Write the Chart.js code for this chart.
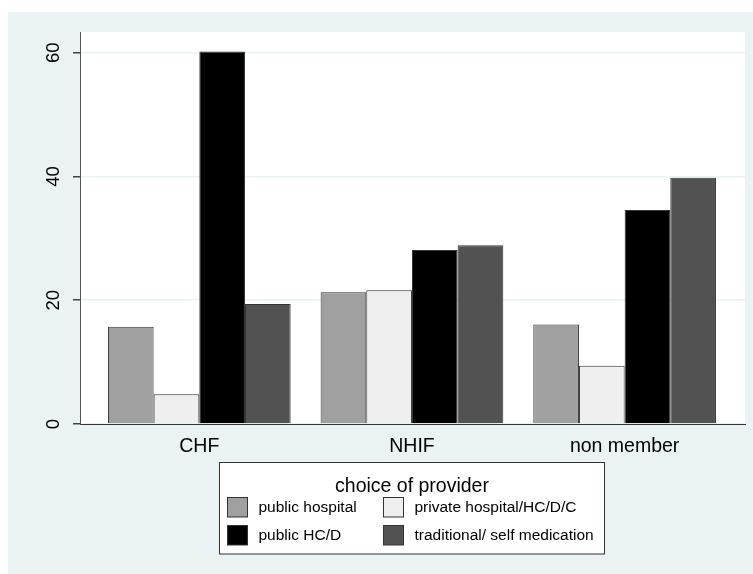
<!DOCTYPE html>
<html lang="en">
<head>
    <meta charset="UTF-8">
    <title>Choice of provider by membership</title>
    <script src="https://cdn.jsdelivr.net/npm/chart.js"></script>
    <style>
        body {
            margin: 0;
            background-color: #fff;
        }
        #wrap {
            width: 753px;
            height: 574px;
            position: relative;
        }
    </style>
</head>
<body>
<div id="wrap"><canvas id="providerChart"></canvas></div>
<script>
    const categories = ['CHF', 'NHIF', 'non member'];
    const publicHospital = [15.7, 21.3, 16.1];
    const privateHospital = [4.8, 21.6, 9.4];
    const publicHCD = [60.2, 28.1, 34.6];
    const traditional = [19.4, 28.9, 39.8];
    const seriesNames = ['public hospital', 'private hospital/HC/D/C', 'public HC/D', 'traditional/ self medication'];
    const seriesColors = ['#a0a0a0', '#efefef', '#000000', '#525252'];
    const yTicks = [0, 20, 40, 60];
    const legendTitle = 'choice of provider';

    const FONT = '"Liberation Sans", Arial, Helvetica, sans-serif';
    const BG = '#eaf2f3';

    // bars sit on a linear x axis so the outer margins can be set freely
    const toPoints = vals => vals.map((v, i) => ({ x: i, y: v }));
    const datasets = [publicHospital, privateHospital, publicHCD, traditional].map((vals, i) => ({
        label: seriesNames[i],
        data: toPoints(vals),
        backgroundColor: seriesColors[i],
        borderColor: '#333',
        borderWidth: 1,
        categoryPercentage: 0.859,
        barPercentage: 1
    }));

    const background = {
        id: 'background',
        beforeDraw(chart) {
            const { ctx, chartArea } = chart;
            ctx.save();
            ctx.fillStyle = BG;
            ctx.fillRect(8, 12, chart.width - 8, chart.height - 12);
            ctx.fillStyle = '#fff';
            ctx.fillRect(chartArea.left, chartArea.top, chartArea.right - chartArea.left, chartArea.bottom - chartArea.top);
            ctx.restore();
        }
    };

    const legendBox = {
        id: 'legendBox',
        afterDraw(chart) {
            const ctx = chart.ctx;
            ctx.save();
            ctx.fillStyle = '#fff';
            ctx.strokeStyle = '#333';
            ctx.lineWidth = 1;
            ctx.fillRect(219.5, 462.5, 385, 91.5);
            ctx.strokeRect(219.5, 462.5, 385, 91.5);

            ctx.fillStyle = '#000';
            ctx.textAlign = 'center';
            ctx.textBaseline = 'middle';
            ctx.font = '19.5px ' + FONT;
            ctx.fillText(legendTitle, 412, 487);

            ctx.font = '15.5px ' + FONT;
            ctx.textAlign = 'left';
            chart.data.datasets.forEach((ds, i) => {
                const x = i % 2 === 0 ? 227.5 : 383.5;
                const y = i < 2 ? 497.5 : 525.5;
                ctx.fillStyle = ds.backgroundColor;
                ctx.fillRect(x, y, 20, 19.5);
                ctx.strokeRect(x, y, 20, 19.5);
                ctx.fillStyle = '#000';
                ctx.fillText(ds.label, x + 31, y + 10);
            });
            ctx.restore();
        }
    };

    Chart.defaults.color = '#000';
    Chart.defaults.font.family = FONT;

    new Chart(document.getElementById('providerChart'), {
        type: 'bar',
        data: { datasets: datasets },
        options: {
            responsive: true,
            maintainAspectRatio: false,
            animation: false,
            layout: { padding: { top: 32, right: 8, left: 0, bottom: 0 } },
            plugins: {
                legend: { display: false },
                tooltip: { enabled: false }
            },
            scales: {
                x: {
                    type: 'linear',
                    offset: false,
                    min: -0.561,
                    max: 2.566,
                    afterBuildTicks: scale => {
                        scale.ticks = categories.map((c, i) => ({ value: i }));
                    },
                    afterFit: scale => { scale.height = 150; },
                    ticks: {
                        callback: v => categories[v],
                        font: { size: 19.5 },
                        padding: 3,
                        maxRotation: 0
                    },
                    grid: { display: false, offset: false },
                    border: { display: true, color: '#333', width: 1 }
                },
                y: {
                    min: 0,
                    max: 63.35,
                    afterBuildTicks: scale => {
                        scale.ticks = yTicks.map(v => ({ value: v }));
                    },
                    afterFit: scale => { scale.width = 80; },
                    ticks: {
                        font: { size: 18.5 },
                        minRotation: 90,
                        maxRotation: 90,
                        crossAlign: 'center',
                        padding: 9
                    },
                    grid: {
                        color: BG,
                        lineWidth: 1.5,
                        tickColor: '#444',
                        tickLength: 7
                    },
                    border: { display: true, color: '#555', width: 1 }
                }
            }
        },
        plugins: [background, legendBox]
    });
</script>
</body>
</html>
